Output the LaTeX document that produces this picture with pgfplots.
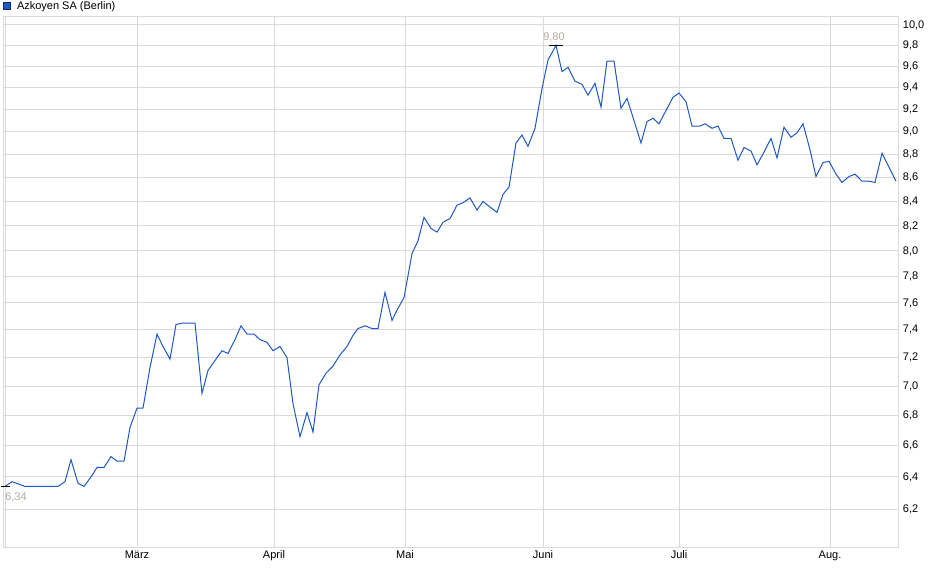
\documentclass[border=0pt]{standalone}
\usepackage{pgfplots}
\pgfplotsset{compat=1.18}
\usepackage{fontspec}
\setmainfont{Liberation Sans}
\definecolor{lineblue}{RGB}{31,88,196}
\definecolor{gridgray}{RGB}{218,218,218}
\definecolor{annot}{RGB}{178,170,162}
\definecolor{legborder}{RGB}{20,40,110}
\begin{document}
\begin{tikzpicture}[x=0.75pt,y=0.75pt]
\useasboundingbox (0,0) rectangle (940,579);
\begin{axis}[
  at={(3pt*0.75,24pt)}, anchor=south west,
  scale only axis,
  width=671.25pt, height=398.25pt,
  ymode=log,
  xmin=3, xmax=898,
  ymin=5.972, ymax=10.089,
  axis line style={gridgray},
  grid=major,
  major grid style={gridgray, line width=0.75pt},
  major tick length=0pt,
  xtick={137,274,405,543,679,830},
  xticklabels={März,April,Mai,Juni,Juli,Aug.},
  extra x ticks={5.5},
  extra x tick labels={},
  ytick={6.2,6.4,6.6,6.8,7.0,7.2,7.4,7.6,7.8,8.0,8.2,8.4,8.6,8.8,9.0,9.2,9.4,9.6,9.8,10.0},
  yticklabels={{6,2},{6,4},{6,6},{6,8},{7,0},{7,2},{7,4},{7,6},{7,8},{8,0},{8,2},{8,4},{8,6},{8,8},{9,0},{9,2},{9,4},{9,6},{9,8},{10,0}},
  yticklabel pos=right,
  yticklabel style={anchor=west, inner sep=0pt, xshift=3.5pt, font=\fontsize{8.25}{9}\selectfont},
  xticklabel style={anchor=north, inner sep=0pt, yshift=-2.5pt, font=\fontsize{8.25}{9}\selectfont},
  clip=false,
  legend style={at={(0,1)}, anchor=south west, draw=none, fill=none, inner sep=0pt, outer sep=0pt,
    xshift=0pt, yshift=1.5pt, font=\fontsize{8.25}{9}\selectfont, legend cell align=left,
    /tikz/every odd column/.append style={column sep=2.5pt}},
  legend image code/.code={\draw[fill=lineblue, draw=legborder, line width=0.5pt] (0pt,-2.6pt) rectangle (5.5pt,2.9pt);},
]
\addplot[lineblue, line width=0.75pt] coordinates {
(5,6.34) (12,6.37) (25,6.34) (58,6.34) (65,6.37) (71,6.51) (78,6.36) (84,6.34)
(91,6.40) (97,6.46) (104,6.46) (111,6.53) (117,6.50) (124,6.50) (130,6.72) (137,6.85)
(143,6.85) (150,7.13) (157,7.37) (163,7.28) (170,7.19) (176,7.44) (182,7.45) (195,7.45)
(202,6.95) (208,7.11) (215,7.18) (222,7.25) (228,7.23) (235,7.33) (241,7.43) (247,7.37)
(254,7.37) (260,7.33) (267,7.31) (273,7.25) (280,7.28) (287,7.20) (293,6.88) (300,6.66)
(307,6.82) (313,6.69) (319,7.01) (326,7.09) (333,7.14) (340,7.22) (347,7.28) (353,7.36)
(358,7.41) (365,7.43) (372,7.41) (378,7.41) (385,7.68) (392,7.47) (398,7.56) (404,7.64)
(412,7.98) (418,8.08) (424,8.27) (431,8.18) (437,8.15) (443,8.23) (450,8.26) (457,8.37)
(463,8.39) (470,8.43) (477,8.33) (483,8.40) (497,8.31) (503,8.46) (509,8.52) (516,8.90)
(522,8.97) (528,8.87) (535,9.03) (542,9.39) (548,9.66) (556,9.80) (562,9.55) (568,9.59)
(575,9.46) (582,9.43) (588,9.33) (595,9.44) (601,9.22) (607,9.65) (614,9.65) (621,9.21)
(627,9.30) (634,9.10) (641,8.90) (647,9.09) (653,9.12) (659,9.07) (666,9.19) (673,9.31)
(679,9.35) (686,9.27) (692,9.05) (700,9.05) (705,9.07) (712,9.03) (718,9.05) (724,8.94)
(731,8.94) (738,8.75) (744,8.86) (751,8.83) (757,8.71) (764,8.82) (771,8.94) (777,8.77)
(784,9.04) (791,8.95) (797,8.99) (803,9.07) (810,8.84) (816,8.61) (823,8.73) (829,8.74)
(836,8.63) (842,8.56) (849,8.61) (855,8.63) (862,8.57) (869,8.57) (875,8.56) (882,8.81)
(889,8.69) (896,8.57)
};
\addlegendentry{Azkoyen SA (Berlin)}
\addplot[black, line width=0.75pt, forget plot] coordinates {(549,9.80) (563,9.80)};
\addplot[black, line width=0.75pt, forget plot] coordinates {(1,6.34) (10,6.34)};
\node[annot, anchor=south, inner sep=0pt, font=\fontsize{8.25}{9}\selectfont] at (axis cs:554,9.80) [yshift=2.5pt] {9,80};
\node[annot, anchor=north west, inner sep=0pt, font=\fontsize{8.25}{9}\selectfont] at (axis cs:5,6.34) [yshift=-4.5pt] {6,34};
\end{axis}
\end{tikzpicture}
\end{document}
